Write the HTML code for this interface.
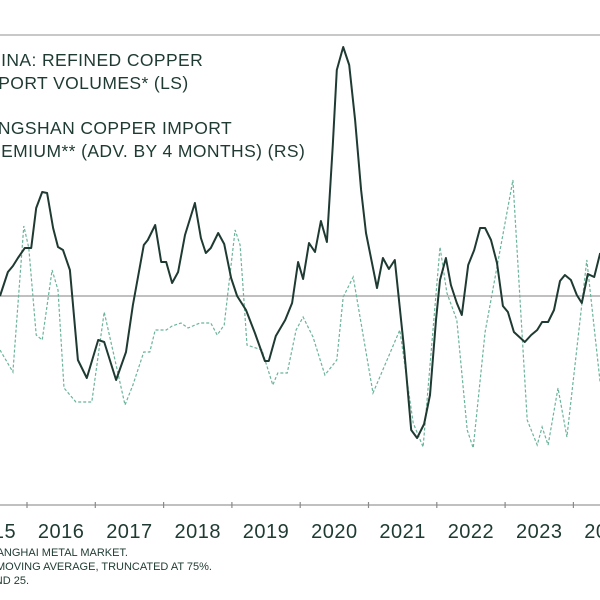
<!DOCTYPE html>
<html><head><meta charset="utf-8"><style>
html,body{margin:0;padding:0;background:#fff;}
svg{display:block;font-family:"Liberation Sans",sans-serif;}
</style></head><body>
<svg id="c" width="600" height="600" viewBox="0 0 600 600">
<line x1="0" y1="35" x2="600" y2="35" stroke="#b5b5b5" stroke-width="1.5"/>
<g fill="#1e3a33" font-size="17.5" letter-spacing="0.4">
<text x="-25" y="66">CHINA: REFINED COPPER</text>
<text x="-22" y="89">IMPORT VOLUMES* (LS)</text>
<text x="-25" y="134">YANGSHAN COPPER IMPORT</text>
<text x="-24" y="157">PREMIUM** (ADV. BY 4 MONTHS) (RS)</text>
</g>
<line x1="0" y1="296" x2="600" y2="296" stroke="#9a9a9a" stroke-width="1.3"/>
<line x1="0" y1="505" x2="600" y2="505" stroke="#9a9a9a" stroke-width="1.2"/>
<g id="ticks"></g>
<g id="series"></g>
<g fill="#1e3a33" font-size="11" text-anchor="end">
<text x="128" y="556">SOURCE: SHANGHAI METAL MARKET.</text>
<text x="212" y="570">* 3-MONTH MOVING AVERAGE, TRUNCATED AT 75%.</text>
<text x="29" y="584">** 15 AND 25.</text>
</g>
</svg>
<script>
const years=[2015,2016,2017,2018,2019,2020,2021,2022,2023,2024];
const volMonths=[0,1.6,2.6,3.6,5,6.3,7.3,8.5,9.5,10.7,11.7,12.7,14.1,15.7,17.5,19.8,21,23.4,25.4,26.8,29,29.8,31.3,32.5,33.5,34.7,35.9,37.3,39.3,40.5,41.5,42.5,44,45.2,46.6,47.8,49.6,51.4,53.4,54.2,55.6,57.5,58.9,60.1,61.1,62.3,63.5,64.7,65.9,67.1,67.9,69.2,70.4,71.6,72.8,73.8,76,77.2,78.4,79.6,81.5,82.9,84.1,85.5,86.7,87.9,88.7,89.9,90.9,92.1,93.1,94.4,95.6,96.8,97.8,99,100.2,101.4,102.4,103.6,105.8,107.1,108.3,109.3,110.5,111.7,112.9,113.9,115.1,116.3,117.3,118.5,119.8,121];
const volValues=[0,24,30,38,48,48,88,104,103,68,49,46,26,-64,-82,-44,-46,-84,-56,-9,51,56,71,34,34,13,24,61,93,58,43,48,63,52,18,0,-14,-37,-65,-65,-40,-24,-7,34,17,53,44,75,54,151,226,249,231,176,106,63,8,38,27,36,-54,-134,-142,-128,-99,-24,16,38,11,-7,-19,31,46,68,68,56,33,-10,-16,-36,-46,-39,-34,-26,-26,-14,15,21,16,1,-7,22,19,43];
const premMonths=[0,2.6,4.8,5.8,7.3,8.5,10.5,11.7,12.9,15.3,18.5,21,23.4,25.2,26.8,29,30.2,31.3,33.5,34.7,36.5,37.9,40.3,42.5,43.8,45.2,47.4,48.4,49.8,52.8,55,56,57.9,59.7,61.1,63.1,65.5,67.9,69.2,71.2,75.2,80.6,83.3,85.3,88.7,90.1,92.1,94.2,95.4,97.8,103.4,106.3,108.3,109.3,110.5,112.5,114.3,118.3,121];
const premValues=[-54,-76,70,48,-39,-44,26,6,-92,-106,-106,-16,-69,-109,-89,-56,-56,-34,-34,-30,-27,-32,-27,-27,-39,-29,66,51,-49,-54,-89,-77,-77,-34,-21,-41,-79,-64,-1,19,-97,-34,-127,-151,49,3,-24,-134,-152,-36,116,-124,-149,-131,-149,-92,-141,36,-87];
// period index -> x
const xM=m=>m*4.96;
const yearWidth=68.3;
const xYear=y=>27+(y-2016)*yearWidth;
const yL=v=>296-v;
const yR=v=>296-v;
const NS='http://www.w3.org/2000/svg';
const ticks=document.getElementById('ticks');
years.forEach((y,i)=>{
  const xt=xYear(y);
  const t=document.createElementNS(NS,'line');
  t.setAttribute('x1',xt);t.setAttribute('x2',xt);t.setAttribute('y1',502);t.setAttribute('y2',508);
  t.setAttribute('stroke','#8a8a8a');t.setAttribute('stroke-width','1.2');
  
  
  ticks.appendChild(t);
  const l=document.createElementNS(NS,'text');
  l.setAttribute('x',xt+yearWidth/2);l.setAttribute('y',538);l.setAttribute('text-anchor','middle');
  l.setAttribute('font-size','20');l.setAttribute('fill','#1e3a33');l.setAttribute('letter-spacing','0.5');
  l.textContent=y;
  
  
  ticks.appendChild(l);
});
const series=document.getElementById('series');
function path(ms,vs,ys){return ms.map((m,i)=>(i?'L':'M')+xM(m).toFixed(1)+' '+ys(vs[i]).toFixed(1)).join(' ');}
const p2=document.createElementNS(NS,'path');
p2.setAttribute('d',path(premMonths,premValues,yR));
p2.setAttribute('fill','none');p2.setAttribute('stroke','#6bb49a');p2.setAttribute('stroke-width','1.2');p2.setAttribute('stroke-dasharray','3 2');


series.appendChild(p2);
const p1=document.createElementNS(NS,'path');
p1.setAttribute('d',path(volMonths,volValues,yL));
p1.setAttribute('fill','none');p1.setAttribute('stroke','#1e3a33');p1.setAttribute('stroke-width','2');p1.setAttribute('stroke-linejoin','round');


series.appendChild(p1);
</script>
</body></html>
